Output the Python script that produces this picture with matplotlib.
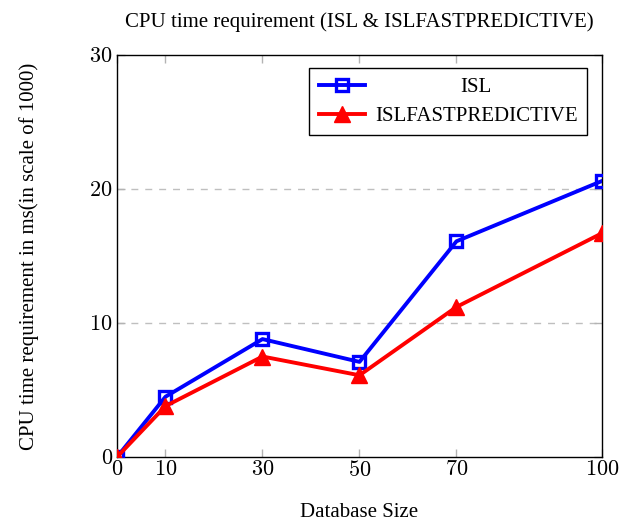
import matplotlib.pyplot as plt

db_size = [0, 10, 30, 50, 70, 100]
isl = [0, 4.5, 8.8, 7.1, 16.1, 20.6]
isl_fast = [0, 3.8, 7.5, 6.1, 11.2, 16.7]
x_ticks = [0, 10, 30, 50, 70, 100]
y_ticks = [0, 10, 20, 30]

plt.rcParams["font.family"] = "Liberation Serif"
plt.rcParams["mathtext.fontset"] = "cm"

fig = plt.figure(figsize=(6.21, 5.21), dpi=100)
ax = fig.add_axes([0.1884, 0.1228, 0.781, 0.7716])

ax.plot(db_size, isl, color="blue", lw=2.8, marker="s", ms=9,
        mfc="none", mec="blue", mew=2.4, label="ISL", zorder=3)
ax.plot(db_size, isl_fast, color="red", lw=2.8, marker="^", ms=11,
        mfc="red", mec="red", label="ISLFASTPREDICTIVE", zorder=3)

ax.set_xlim(0, 100)
ax.set_ylim(0, 30)
ax.set_xticks(x_ticks)
ax.set_yticks(y_ticks)
ax.set_xticklabels([f"${v}$" for v in x_ticks], fontsize=16)
ax.set_yticklabels([f"${v}$" for v in y_ticks], fontsize=16)
ax.tick_params(direction="in", color="0.7", length=6, width=1,
               top=True, right=True, pad=3)
for s in ax.spines.values():
    s.set_linewidth(1.0)
for y in [10, 20]:
    ax.axhline(y, color="0.75", ls=(0, (5, 5)), lw=1, zorder=1)

ax.set_title("CPU time requirement (ISL & ISLFASTPREDICTIVE)", fontsize=15, pad=20)
ax.set_xlabel("Database Size", fontsize=15, labelpad=16)
ax.set_ylabel("CPU time requirement in ms(in scale of 1000)", fontsize=15, labelpad=36)

leg = ax.legend(loc="upper right", bbox_to_anchor=(0.969, 0.968), borderaxespad=0,
                fontsize=15, fancybox=False, edgecolor="black", framealpha=1,
                handlelength=2.2, handletextpad=0.5, borderpad=0.45,
                labelspacing=0.45)
leg.get_frame().set_linewidth(1.0)

# centre the legend labels like the original
fig.canvas.draw()
texts = leg.get_texts()
widths = [t.get_window_extent().width for t in texts]
for t, w in zip(texts, widths):
    t.set_position(((max(widths) - w) / 2, 0))

fig.savefig("out.png", dpi=100)
